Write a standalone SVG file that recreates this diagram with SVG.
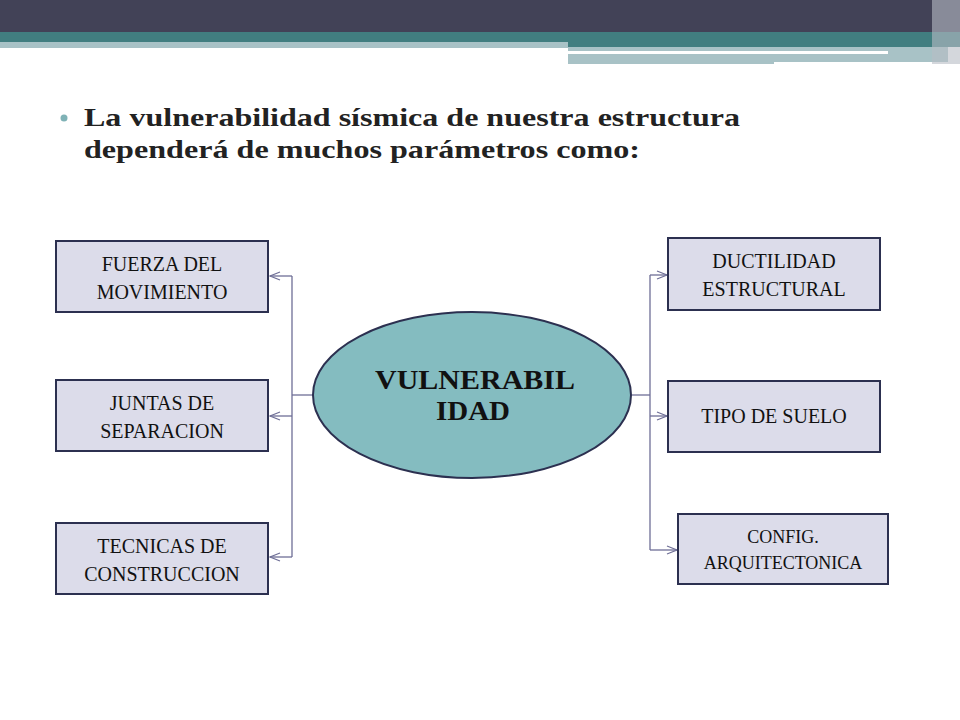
<svg xmlns="http://www.w3.org/2000/svg" width="960" height="720" viewBox="0 0 960 720">
<style>
.box{fill:#DCDCEA;stroke:#2C3050;stroke-width:2}
.t{font-family:'Liberation Serif','DejaVu Serif',serif;font-size:20px;fill:#111;text-anchor:middle}
.c{fill:none;stroke:#6E6E96;stroke-width:1.3}
</style>
<defs><marker id="a" markerWidth="12" markerHeight="10" refX="11" refY="5" orient="auto" markerUnits="userSpaceOnUse"><path d="M1,1 L11,5 L1,9" fill="none" stroke="#6E6E96" stroke-width="1.2"/></marker></defs>
<rect width="960" height="720" fill="#fff"/>
<rect x="0" y="0" width="960" height="32" fill="#424257"/>
<rect x="0" y="32" width="960" height="15" fill="#417E80"/>
<rect x="0" y="42" width="568" height="6" fill="#A8C2C6"/>
<rect x="568" y="47" width="380" height="17" fill="#A8C2C6"/>
<rect x="568" y="51" width="320" height="3" fill="#fff"/>
<rect x="774" y="62" width="180" height="3" fill="#fff"/>
<rect x="932" y="0" width="28" height="64" fill="#B8BCC4" opacity="0.6"/>
<circle cx="64" cy="118" r="3.5" fill="#7FB2B6"/>
<text style="font-family:'Liberation Serif','DejaVu Serif',serif;font-size:25px;font-weight:bold" fill="#222"><tspan x="84" y="126" textLength="656" lengthAdjust="spacingAndGlyphs">La vulnerabilidad sísmica de nuestra estructura</tspan><tspan x="84" y="158" textLength="556" lengthAdjust="spacingAndGlyphs">dependerá de muchos parámetros como:</tspan></text>
<g id="connectors">
<path class="c" d="M313,395 H292"/>
<path class="c" d="M292,276 V557"/>
<path class="c" d="M292,276 H270" marker-end="url(#a)"/>
<path class="c" d="M292,416 H270" marker-end="url(#a)"/>
<path class="c" d="M292,557 H270" marker-end="url(#a)"/>
<path class="c" d="M632,395 H650"/>
<path class="c" d="M650,275 V550"/>
<path class="c" d="M650,275 H667" marker-end="url(#a)"/>
<path class="c" d="M650,416 H667" marker-end="url(#a)"/>
<path class="c" d="M650,550 H677" marker-end="url(#a)"/>
</g>
<g id="center"><ellipse cx="472" cy="395" rx="159" ry="83" fill="#84BCC0" stroke="#2C3050" stroke-width="2"/>
<text class="t" style="font-size:27px;font-weight:bold"><tspan x="475" y="389" textLength="200" lengthAdjust="spacingAndGlyphs">VULNERABIL</tspan><tspan x="473" y="420" textLength="74" lengthAdjust="spacingAndGlyphs">IDAD</tspan></text></g>
<g id="n1"><rect class="box" x="56" y="241" width="212" height="71"/><text class="t"><tspan x="162" y="271">FUERZA DEL</tspan><tspan x="162" y="299">MOVIMIENTO</tspan></text></g>
<g id="n2"><rect class="box" x="56" y="380" width="212" height="71"/><text class="t"><tspan x="162" y="410">JUNTAS DE</tspan><tspan x="162" y="438">SEPARACION</tspan></text></g>
<g id="n3"><rect class="box" x="56" y="523" width="212" height="71"/><text class="t"><tspan x="162" y="553">TECNICAS DE</tspan><tspan x="162" y="581">CONSTRUCCION</tspan></text></g>
<g id="n4"><rect class="box" x="668" y="238" width="212" height="72"/><text class="t"><tspan x="774" y="268">DUCTILIDAD</tspan><tspan x="774" y="296">ESTRUCTURAL</tspan></text></g>
<g id="n5"><rect class="box" x="668" y="381" width="212" height="71"/><text class="t"><tspan x="774" y="423">TIPO DE SUELO</tspan></text></g>
<g id="n6"><rect class="box" x="678" y="514" width="210" height="70"/><text class="t" style="font-size:18px"><tspan x="783" y="543">CONFIG.</tspan><tspan x="783" y="569">ARQUITECTONICA</tspan></text></g>
</svg>
